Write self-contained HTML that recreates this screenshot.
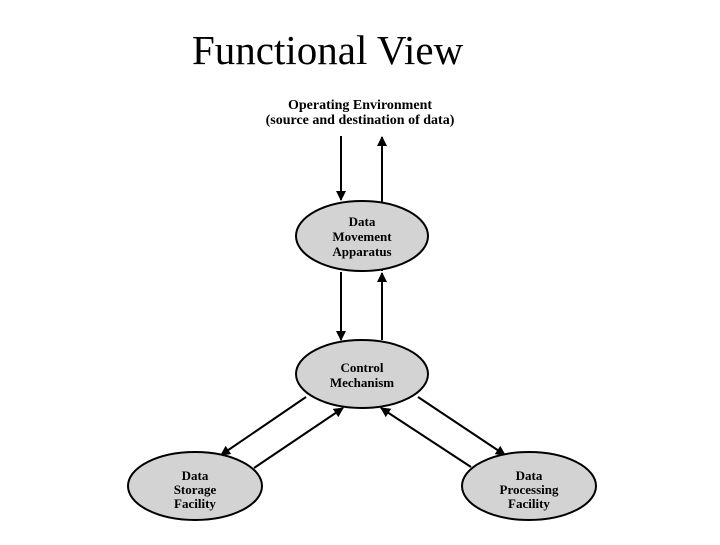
<!DOCTYPE html>
<html><head><style>
body{margin:0;background:#fff;width:720px;height:540px;overflow:hidden}
</style></head><body>
<svg width="720" height="540" xmlns="http://www.w3.org/2000/svg" font-family="Liberation Serif, serif">
<defs><marker id="a" markerWidth="10" markerHeight="10" refX="9" refY="5" orient="auto" markerUnits="userSpaceOnUse"><path d="M0,0 L10,5 L0,10 z" fill="#000"/></marker></defs>
<text x="192" y="64" font-size="41">Functional View</text>
<g font-weight="bold" font-size="14" text-anchor="middle">
<text x="360" y="109">Operating Environment</text>
<text x="360" y="124">(source and destination of data)</text>
</g>
<g stroke="#000" stroke-width="2" marker-end="url(#a)">
<line x1="341" y1="136" x2="341" y2="200"/>
<line x1="382" y1="271" x2="382" y2="137"/>
<line x1="341" y1="272" x2="341" y2="340"/>
<line x1="382" y1="340" x2="382" y2="273"/>
<line x1="306" y1="397" x2="221" y2="455"/>
<line x1="254" y1="468" x2="343" y2="408"/>
<line x1="471" y1="467" x2="381" y2="408"/>
<line x1="418" y1="397" x2="505" y2="455"/>
</g>
<g fill="#d3d3d3" stroke="#000" stroke-width="2">
<ellipse cx="362" cy="236" rx="66" ry="35"/>
<ellipse cx="362" cy="374" rx="66" ry="34"/>
<ellipse cx="195" cy="486" rx="67" ry="34"/>
<ellipse cx="529" cy="486" rx="67" ry="34"/>
</g>
<g font-weight="bold" font-size="13" text-anchor="middle">
<text x="362" y="226">Data</text><text x="362" y="241">Movement</text><text x="362" y="256">Apparatus</text>
<text x="362" y="372">Control</text><text x="362" y="387">Mechanism</text>
<text x="195" y="480">Data</text><text x="195" y="494">Storage</text><text x="195" y="508">Facility</text>
<text x="529" y="480">Data</text><text x="529" y="494">Processing</text><text x="529" y="508">Facility</text>
</g>
</svg>
</body></html>
